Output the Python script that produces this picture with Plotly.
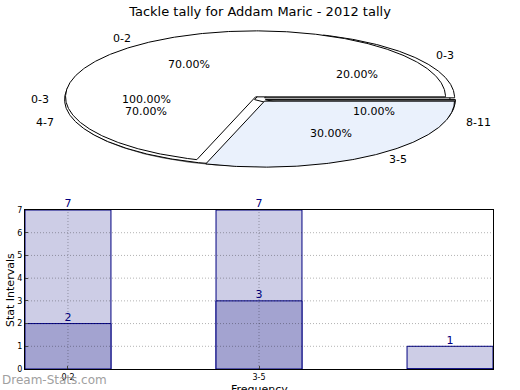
import numpy as np
import plotly.graph_objects as go

title_text = "Tackle tally for Addam Maric - 2012 tally"

# ---- pie data (three overlaid pies) ----
pie_c_labels = ["0-3"]
pie_c_values = [10]
pie_b_labels = ["0-3", "4-7", "8-11"]
pie_b_values = [2, 7, 1]
pie_b_colors = ["#ffffff", "#ffffff", "#777777"]
pie_a_labels = ["0-2", "3-5"]
pie_a_values = [7, 3]
pie_a_colors = ["#ffffff", "#eaf1fc"]

# ---- bar data ----
bar_categories = ["0-2", "3-5", "8-11"]
bar_tick_labels = ["0-2", "3-5"]
bar_light_values = [7, 7, 1]
bar_dark_values = [2, 3, 0]
y_ticks = [0, 1, 2, 3, 4, 5, 6, 7]

W, H = 520, 390
fig = go.Figure()

# pie axes geometry (pixels)
PCX, PCY, PA, PB = 260, 99, 190, 66
pie_top_px, pie_bot_px = 22, 178
x2_range = [(0 - PCX) / PA, (W - PCX) / PA]
y2_range = [(PCY - pie_bot_px) / PB, (PCY - pie_top_px) / PB]
y2_domain = [(H - pie_bot_px) / H, (H - pie_top_px) / H]

annotations = []


def draw_pie(labels, values, colors, explode, shadow=False):
    total = float(sum(values))
    theta = 0.0
    for lab, v, col in zip(labels, values, colors):
        span = 360.0 * v / total
        mid = np.radians(theta + span / 2)
        dx, dy = explode * np.cos(mid), explode * np.sin(mid)
        angs = np.radians(np.linspace(theta, theta + span, max(int(span * 2), 12)))
        xs = list(dx + np.cos(angs))
        ys = list(dy + np.sin(angs))
        if span < 359.99:
            xs = [dx] + xs + [dx]
            ys = [dy] + ys + [dy]
        if shadow:
            fig.add_trace(go.Scatter(x=[x - 0.02 for x in xs], y=[y - 0.03 for y in ys],
                                     mode="lines", fill="toself", fillcolor="rgba(0,0,0,0.55)",
                                     line=dict(width=0), hoverinfo="skip", showlegend=False,
                                     xaxis="x2", yaxis="y2"))
        fig.add_trace(go.Scatter(x=xs, y=ys, mode="lines", fill="toself", fillcolor=col,
                                 line=dict(color="black", width=1), hoverinfo="skip",
                                 showlegend=False, xaxis="x2", yaxis="y2"))
        lx = dx + 1.1 * np.cos(mid)
        ly = dy + 1.1 * np.sin(mid)
        annotations.append(dict(x=lx, y=ly, xref="x2", yref="y2", text=lab, showarrow=False,
                                xanchor="left" if lx > 0 else "right", yanchor="middle",
                                font=dict(size=11, color="black")))
        px_ = dx + 0.6 * np.cos(mid)
        py_ = dy + 0.6 * np.sin(mid)
        annotations.append(dict(x=px_, y=py_, xref="x2", yref="y2",
                                text="%.2f%%" % (100.0 * v / total), showarrow=False,
                                xanchor="center", yanchor="middle",
                                font=dict(size=11, color="black")))
        theta += span


draw_pie(pie_c_labels, pie_c_values, ["#ffffff"], 0.0, shadow=True)
draw_pie(pie_b_labels, pie_b_values, pie_b_colors, 0.03)
draw_pie(pie_a_labels, pie_a_values, pie_a_colors, 0.04)

# ---- bars ----
xpos = list(range(len(bar_categories)))
fig.add_trace(go.Bar(x=xpos, y=bar_light_values, width=0.45,
                     marker=dict(color="#cdcde6", line=dict(color="#000080", width=1)),
                     showlegend=False, hoverinfo="skip"))
fig.add_trace(go.Bar(x=xpos, y=bar_dark_values, width=0.45,
                     marker=dict(color="#a3a3d0", line=dict(color="#000080", width=1)),
                     showlegend=False, hoverinfo="skip"))
lt_x = [x for x, v in zip(xpos, bar_light_values) if v > 0]
lt_y = [v for v in bar_light_values if v > 0]
dk_x = [x for x, v in zip(xpos, bar_dark_values) if v > 0]
dk_y = [v for v in bar_dark_values if v > 0]
fig.add_trace(go.Scatter(x=lt_x + dk_x, y=lt_y + dk_y, mode="text",
                         text=[str(v) for v in lt_y + dk_y], textposition="top center",
                         textfont=dict(size=11, color="#000080"), cliponaxis=False,
                         showlegend=False, hoverinfo="skip"))

# dotted grid drawn above the bars (as in the reference)
shapes = []
grid_line = dict(color="rgba(0,0,0,0.3)", width=1, dash="1px,2px")
for yv in y_ticks[1:-1]:
    shapes.append(dict(type="line", xref="x domain", yref="y", x0=0, x1=1, y0=yv, y1=yv,
                       line=grid_line, layer="above"))
for xv in range(len(bar_tick_labels)):
    shapes.append(dict(type="line", xref="x", yref="y domain", x0=xv, x1=xv, y0=0, y1=1,
                       line=grid_line, layer="above"))

annotations.append(dict(x=0, y=(H - 380) / H, xref="paper", yref="paper",
                        text="Dream-Stats.com", showarrow=False, xanchor="left",
                        yanchor="middle", font=dict(size=12, color="#a0a0a0")))
annotations.append(dict(x=259 / W, y=(H - 389) / H, xref="paper", yref="paper",
                        text="Frequency", showarrow=False, xanchor="center",
                        yanchor="middle", font=dict(size=11, color="black")))
annotations.append(dict(x=10 / W, y=(H - 290) / H, xref="paper", yref="paper",
                        text="Stat Intervals", showarrow=False, textangle=-90,
                        xanchor="center", yanchor="middle", font=dict(size=11, color="black")))

fig.update_layout(
    width=W, height=H,
    margin=dict(l=0, r=0, t=0, b=0),
    paper_bgcolor="white", plot_bgcolor="white",
    font=dict(family="DejaVu Sans", color="black"),
    barmode="overlay",
    title=dict(text=title_text, x=0.5, xanchor="center", y=(H - 11) / H, yanchor="middle",
               font=dict(size=13, color="black")),
    xaxis=dict(domain=[25 / W, 493 / W], range=[-0.225, 2.225], tickvals=[0, 1],
               ticktext=bar_tick_labels, showgrid=False, automargin=False,
               showline=True, linecolor="black", mirror=True, ticks="inside",
               ticklen=3, tickfont=dict(size=8), zeroline=False),
    yaxis=dict(domain=[(H - 369) / H, (H - 210) / H], range=[0, 7], tickvals=y_ticks,
               showgrid=False, automargin=False,
               showline=True, linecolor="black", mirror=True, ticks="inside", ticklen=3,
               tickfont=dict(size=8), zeroline=False),
    xaxis2=dict(domain=[0, 1], range=x2_range, visible=False, anchor="y2", automargin=False),
    yaxis2=dict(domain=y2_domain, range=y2_range, visible=False, anchor="x2", automargin=False),
    annotations=annotations,
    shapes=shapes,
)

fig.write_html("out.html", config={"displayModeBar": False},
               post_script="document.body.style.margin='0';document.body.style.padding='0';")
